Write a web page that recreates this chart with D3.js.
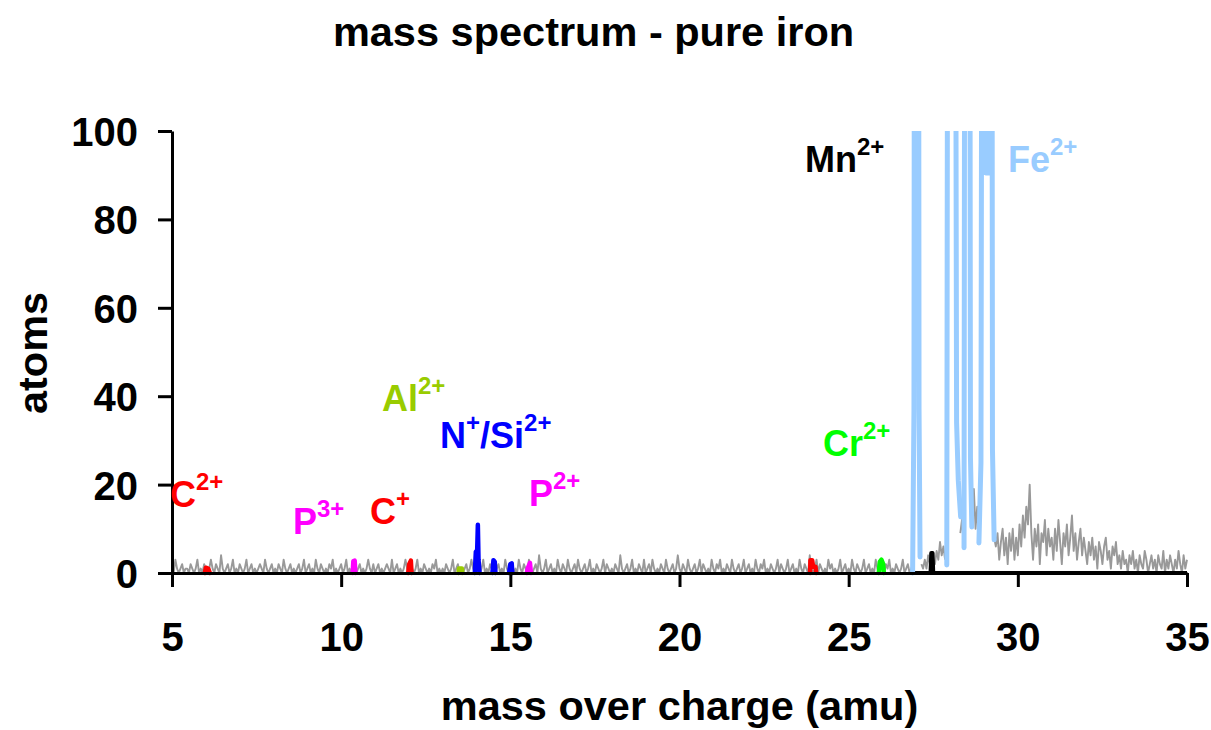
<!DOCTYPE html>
<html><head><meta charset="utf-8">
<script src="https://cdn.jsdelivr.net/npm/d3@7/dist/d3.min.js"></script>
<style>body{margin:0;background:#fff}svg{display:block}</style>
</head><body>
<svg id="chart" width="1211" height="730"></svg>
<script>
// ---------------- DATA ----------------
const title = "mass spectrum - pure iron";
const xTitle = "mass over charge (amu)";
const yTitle = "atoms";
const xTicks = [5, 10, 15, 20, 25, 30, 35];
const yTicks = [0, 20, 40, 60, 80, 100];

// background spectrum (grey), one count per 0.05 amu bin starting at 5 amu
const noiseStart = 5, noiseStep = 0.05;
const noiseCounts = [
  // 5
  1,0,3,1,0,1,2,0,1,1,0,2,1,0,1,3,0,1,0,2,
  // 6
  1,0,1,3,1,0,2,1,0,4,1,0,1,2,0,1,3,0,1,0,
  // 7
  2,1,0,1,3,0,1,2,0,1,0,1,2,1,0,3,1,0,1,2,
  // 8
  0,1,0,2,1,0,3,1,0,1,2,0,1,0,1,2,0,1,3,0,
  // 9
  1,2,0,1,0,3,1,0,2,1,0,1,0,2,1,3,0,1,0,1,
  // 10
  2,0,1,3,0,1,0,2,1,0,1,2,0,1,0,1,3,1,0,2,
  // 11
  0,1,2,0,1,0,1,2,1,0,3,0,1,2,0,1,0,1,3,1,
  // 12
  0,2,1,0,1,3,0,1,0,2,1,0,1,0,2,1,3,0,1,0,
  // 13
  1,0,2,1,0,1,3,0,1,2,0,1,0,1,2,0,1,3,1,0,
  // 14
  2,1,0,1,3,0,1,0,2,1,3,0,1,2,0,1,0,3,1,0,
  // 15
  1,2,0,1,0,3,1,0,2,1,0,3,1,0,1,2,0,4,1,0,
  // 16
  1,3,0,1,2,0,1,0,3,1,0,2,1,0,3,1,0,1,2,0,
  // 17
  3,1,0,1,2,0,1,3,0,1,0,2,1,0,1,3,0,2,1,0,
  // 18
  1,0,2,1,0,4,1,0,1,2,0,1,3,0,1,0,2,1,0,3,
  // 19
  0,1,2,0,3,1,0,1,0,2,1,0,3,1,0,1,2,0,1,4,
  // 20
  1,0,2,1,0,3,1,0,1,2,0,1,3,0,2,1,0,1,0,3,
  // 21
  1,0,2,1,3,0,1,0,2,1,0,3,1,0,1,2,0,1,3,0,
  // 22
  1,2,0,1,0,3,1,0,2,1,3,0,1,0,2,1,0,1,3,0,
  // 23
  2,1,0,1,3,0,1,2,0,1,0,3,1,0,2,1,0,4,1,0,
  // 24
  1,3,0,2,1,0,1,0,3,1,2,0,1,0,1,3,0,1,2,0,
  // 25
  1,0,3,1,0,2,1,0,1,3,0,1,2,0,1,0,3,1,0,2,
  // 26
  1,0,2,1,3,0,1,0,2,1,0,1,3,0,1,2,0,1,2,null,
  // 27
  null,null,null,2,1,3,1,4,2,1,3,2,5,3,7,4,6,3,null,null,
  // 28
  null,null,null,null,null,null,9,12,7,null,null,null,null,12,19,10,15,9,null,null,
  // 29
  null,null,null,null,null,null,8,6,9,3,7,10,4,8,2,9,5,10,3,8,
  // 30
  4,11,6,13,8,15,11,20,9,3,10,6,11,2,9,7,12,4,10,6,
  // 31
  8,3,10,5,12,7,2,9,6,11,4,8,13,5,9,3,7,10,4,8,
  // 32
  5,2,7,4,8,3,6,1,7,5,2,6,8,3,5,1,6,4,7,2,
  // 33
  4,1,5,2,3,0,4,2,5,1,3,0,4,2,1,5,3,0,2,4,
  // 34
  1,3,0,4,2,1,5,0,3,1,4,2,0,3,1,5,2,0,4,1,
  // 35
  3
];

// Fe2+ isotope peaks (light blue), [mass, counts]
const fe54 = [[26.89,0],[26.93,37],[26.96,300],[27.05,300],[27.08,37],[27.11,3.6]];
const fe56 = [[27.90,1.8],[27.95,300],[28.12,300],[28.19,34],[28.24,21],[28.31,12.7]];
const fe57 = [[28.41,5.7],[28.45,300],[28.56,300],[28.60,26],[28.64,10.4]];
const fe58 = [[28.85,6.8],[28.91,25],[28.97,300],[29.02,300],[29.05,90.5],[29.17,90.5],[29.19,300],[29.22,300],[29.25,28],[29.30,7.5]];

// minor species, [mass, counts]
const c2Peak  = [[5.97,0],[6.00,1.2],[6.07,1.0],[6.12,0]];
const p3Peak  = [[10.34,0],[10.36,2.7],[10.40,2.8],[10.42,0]];
const c1Peak  = [[11.98,0],[12.01,2.0],[12.06,2.8],[12.08,0]];
const alPeak  = [[13.47,0],[13.48,1.0],[13.57,1.0],[13.58,0]];
const nPeak   = [[13.95,0],[13.98,4.8],[14.02,5.2],[14.04,10.9],[14.06,3.0],[14.09,0]];
const si29Peak= [[14.47,0],[14.50,2.9],[14.54,2.5],[14.56,0]];
const si30Peak= [[14.96,0],[15.00,2.0],[15.04,2.2],[15.06,0]];
const p2Peak  = [[15.49,0],[15.51,1.0],[15.58,2.3],[15.61,0]];
const redPeak = [[23.86,0],[23.87,2.9],[23.92,2.9],[23.95,1.4],[24.02,1.4],[24.04,0]];
const crPeak  = [[25.89,0],[25.92,2.5],[25.97,3.0],[26.02,2.0],[26.04,0]];
const mnPeak  = [[26.95,0],[27.42,0],[27.44,4.5],[27.48,4.5],[27.50,0],[35.0,0]];

// ion labels: [main text, superscript, second main, second superscript]
const ionLabels = [
  ["C","2+"], ["P","3+"], ["C","+"], ["Al","2+"], ["N","+","/Si","2+"],
  ["P","2+"], ["Cr","2+"], ["Mn","2+"], ["Fe","2+"]
];

// ---------------- DRAWING ----------------
const svg = d3.select("#chart");
const font = "'Liberation Sans', Arial, Helvetica, sans-serif";
svg.attr("font-family", font).attr("font-weight", "bold");

const x = d3.scaleLinear().domain([5, 35]).range([172, 1187]);
const y = d3.scaleLinear().domain([0, 100]).range([573, 131]);

svg.append("defs").append("clipPath").attr("id", "plotclip")
  .append("rect").attr("x", 160).attr("y", y(100)).attr("width", 1040).attr("height", 460);

const plot = svg.append("g").attr("clip-path", "url(#plotclip)");

const line = d3.line().x(d => x(d[0])).y(d => y(d[1]));
const noiseData = noiseCounts.map((v, i) => [noiseStart + i * noiseStep, v]);
const noiseLine = d3.line().defined(d => d[1] !== null).x(d => x(d[0])).y(d => y(d[1]));

// grey background spectrum
plot.append("path").datum(noiseData)
  .attr("d", noiseLine).attr("fill", "none")
  .attr("stroke", "#999999").attr("stroke-width", 1.9).attr("stroke-linejoin", "round");

// minor species
const peaks = [
  [c2Peak, "#FF0000"], [p3Peak, "#FF00FF"], [c1Peak, "#FF0000"], [alPeak, "#99CC00"],
  [nPeak, "#0000FF"], [si29Peak, "#0000FF"], [si30Peak, "#0000FF"], [p2Peak, "#FF00FF"],
  [redPeak, "#FF0000"], [crPeak, "#00FF00"]
];
peaks.forEach(([data, col]) => {
  plot.append("path").datum(data).attr("d", line).attr("fill", "none")
    .attr("stroke", col).attr("stroke-width", 4.5)
    .attr("stroke-linejoin", "round").attr("stroke-linecap", "round");
});

// Mn
plot.append("path").datum(mnPeak).attr("d", line).attr("fill", "none")
  .attr("stroke", "#000").attr("stroke-width", 4).attr("stroke-linejoin", "round");

// Fe
[fe54, fe56, fe57, fe58].forEach(data => {
  plot.append("path").datum(data).attr("d", line).attr("fill", "none")
    .attr("stroke", "#99CCFF").attr("stroke-width", 5)
    .attr("stroke-linejoin", "round").attr("stroke-linecap", "round");
});

// axes
const xAxis = d3.axisBottom(x).tickValues(xTicks).tickSize(14).tickSizeOuter(0).tickPadding(36);
const yAxis = d3.axisLeft(y).tickValues(yTicks).tickSize(14).tickSizeOuter(0).tickPadding(20);

const gx = svg.append("g").attr("transform", `translate(0,${y(0)})`).call(xAxis);
const gy = svg.append("g").attr("transform", `translate(${x(5)},0)`).call(yAxis);
[gx, gy].forEach(g => {
  g.select(".domain").attr("stroke", "#000").attr("stroke-width", 3);
  g.selectAll(".tick line").attr("stroke", "#000").attr("stroke-width", 3);
  g.selectAll(".tick text").attr("fill", "#000").attr("font-size", 40)
    .attr("font-family", font).attr("font-weight", "bold");
});
gy.selectAll(".tick text").attr("dy", "0.36em");

// titles
svg.append("text").attr("x", 593.5).attr("y", 46).attr("text-anchor", "middle")
  .attr("font-size", 41.5).text(title);
svg.append("text").attr("x", 679.5).attr("y", 720).attr("text-anchor", "middle")
  .attr("font-size", 41.5).text(xTitle);
svg.append("text").attr("transform", "translate(47,353) rotate(-90)")
  .attr("text-anchor", "middle").attr("font-size", 41.5).text(yTitle);

// ion labels
const labelLayout = [
  {x:170, y:507, c:"#FF0000"},
  {x:293, y:534, c:"#FF00FF"},
  {x:370, y:524, c:"#FF0000"},
  {x:382, y:411, c:"#99CC00"},
  {x:440, y:448, c:"#0000FF"},
  {x:529, y:506, c:"#FF00FF"},
  {x:823, y:456, c:"#00FF00"},
  {x:805, y:172, c:"#000000"},
  {x:1008, y:172, c:"#99CCFF"}
];
ionLabels.forEach((parts, i) => {
  const L = labelLayout[i];
  const t = svg.append("text").attr("x", L.x).attr("y", L.y)
    .attr("fill", L.c).attr("font-size", 36);
  t.append("tspan").text(parts[0]);
  t.append("tspan").attr("dy", -17).attr("font-size", 24).text(parts[1]);
  if (parts.length > 2) {
    t.append("tspan").attr("dy", 17).attr("font-size", 36).text(parts[2]);
    t.append("tspan").attr("dy", -17).attr("font-size", 24).text(parts[3]);
  }
});
</script>
</body></html>
